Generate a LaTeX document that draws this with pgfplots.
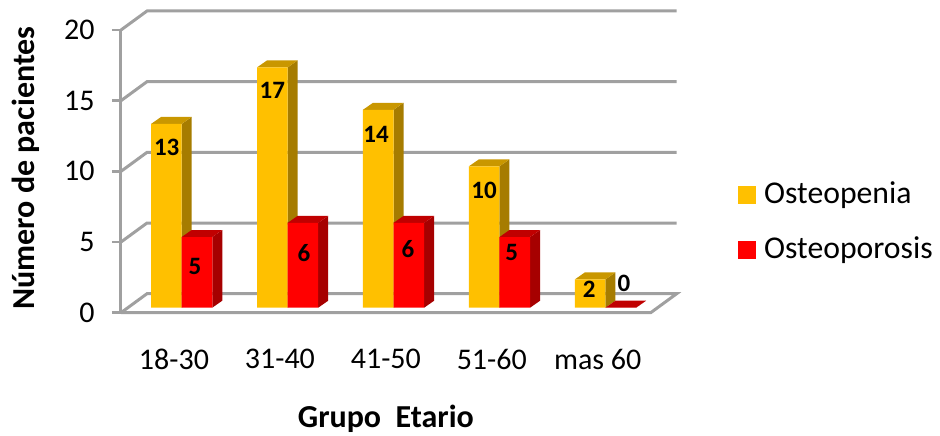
\documentclass[border=0pt]{standalone}
\usepackage{fontspec}
\setmainfont{Carlito}
\usepackage{pgfplots}
\pgfplotsset{compat=1.18}
\usepackage{pgfplotstable}

\definecolor{oroF}{HTML}{FFC000}
\definecolor{oroS}{HTML}{A67C00}
\definecolor{oroT}{HTML}{C99700}
\definecolor{rojF}{HTML}{FF0000}
\definecolor{rojS}{HTML}{A60000}
\definecolor{rojT}{HTML}{C00000}
\definecolor{rejilla}{HTML}{A0A0A0}

\pgfplotstableread{
grupo osteopenia osteoporosis
1 13 5
2 17 6
3 14 6
4 10 5
5 2 0
}\datos

% caras lateral y superior de una barra: inicio x, valor, color lateral, color superior
\newcommand{\caras}[4]{%
  \pgfmathsetmacro{\xa}{#1}%
  \pgfmathsetmacro{\xb}{#1+0.2888}%
  \pgfmathsetmacro{\xc}{#1+0.2888+0.0944}%
  \pgfmathsetmacro{\xd}{#1+0.0944}%
  \pgfmathsetmacro{\yb}{#2+0.495}%
  \addplot[fill=#3,draw=none] coordinates {(\xb,0) (\xc,0.495) (\xc,\yb) (\xb,#2)} --cycle;
  \addplot[fill=#4,draw=none] coordinates {(\xa,#2) (\xb,#2) (\xc,\yb) (\xd,\yb)} --cycle;
}

\pgfplotsset{marco/.style={
  scale only axis, width=529.7pt, height=282.7pt,
  xmin=0.5, xmax=5.5, ymin=0, ymax=20,
  clip=false,
}}

\begin{document}
\begin{tikzpicture}[x=1pt,y=1pt]
\useasboundingbox (0,0) rectangle (940,436);

% plano frontal: ejes, ticks, rejilla del fondo
\begin{axis}[marco,
  at={(121pt,123.3pt)}, anchor=south west,
  axis x line*=bottom, axis y line*=left,
  axis line style={rejilla,line width=3pt,-},
  xtick={1,2,3,4,5},
  xticklabels={18-30,31-40,41-50,51-60,mas 60},
  ytick={0,5,10,15,20},
  x tick style={draw=none},
  y tick style={rejilla,line width=2.5pt},
  tick align=outside, major tick length=9pt,
  tick label style={font=\fontsize{30}{30}\selectfont},
  xticklabel style={yshift=-24pt},
  yticklabel style={xshift=-14pt},
  /pgf/number format/assume math mode=true,
  xlabel={\bfseries Grupo\ \ Etario},
  ylabel={\bfseries Número de pacientes},
  label style={font=\fontsize{32}{32}\selectfont},
  xlabel style={at={(axis description cs:0.5,0)},anchor=center,yshift=-106pt},
  ylabel style={at={(axis description cs:-0.1803,0.512)},anchor=center},
]
\addplot[rejilla,line width=3pt] coordinates {(0.5,0) (0.7454,1.344) (5.7454,1.344) (5.5,0) (0.5,0)};
\addplot[rejilla,line width=3pt] coordinates {(0.5,5) (0.7454,6.344) (5.7454,6.344)};
\addplot[rejilla,line width=3pt] coordinates {(0.5,10) (0.7454,11.344) (5.7454,11.344)};
\addplot[rejilla,line width=3pt] coordinates {(0.5,15) (0.7454,16.344) (5.7454,16.344)};
\addplot[rejilla,line width=3pt] coordinates {(0.5,20) (0.7454,21.344) (5.7454,21.344)};
\end{axis}

% barras: mismo sistema, desplazado hacia el interior del piso
\begin{axis}[marco,
  at={(128.7pt,128.3pt)}, anchor=south west,
  hide axis,
]
\caras{0.7112}{13}{oroS}{oroT}
\caras{1.7112}{17}{oroS}{oroT}
\caras{2.7112}{14}{oroS}{oroT}
\caras{3.7112}{10}{oroS}{oroT}
\caras{4.7112}{2}{oroS}{oroT}
\addplot[ybar,bar width=30.6pt,bar shift=-15.3pt,fill=oroF,draw=none] table[x=grupo,y=osteopenia] {\datos};
\caras{1}{5}{rojS}{rojT}
\caras{2}{6}{rojS}{rojT}
\caras{3}{6}{rojS}{rojT}
\caras{4}{5}{rojS}{rojT}
\caras{5}{0}{rojS}{rojT}
\addplot[ybar,bar width=30.6pt,bar shift=15.3pt,fill=rojF,draw=none] table[x=grupo,y=osteoporosis] {\datos};
\end{axis}

% etiquetas de datos
\begin{scope}[every node/.style={font=\fontsize{25}{25}\selectfont\bfseries,inner sep=0pt}]
\node at (166.7,288.7) {13};
\node at (272.3,345.3) {17};
\node at (376,302) {14};
\node at (484,246) {10};
\node at (589.3,146.7) {2};
\node at (195,170) {5};
\node at (304,182.7) {6};
\node at (408,187) {6};
\node at (511.7,183.3) {5};
\node at (624,152.7) {0};
\end{scope}

% leyenda
\fill[oroF] (738,232) rectangle (756,250);
\fill[rojF] (738,177) rectangle (756,195);
\begin{scope}[every node/.style={font=\fontsize{31.7}{32}\selectfont,inner sep=0pt,anchor=base west}]
\node at (764,232.5) {Osteopenia};
\node at (764,177.5) {Osteoporosis};
\end{scope}
\end{tikzpicture}
\end{document}
